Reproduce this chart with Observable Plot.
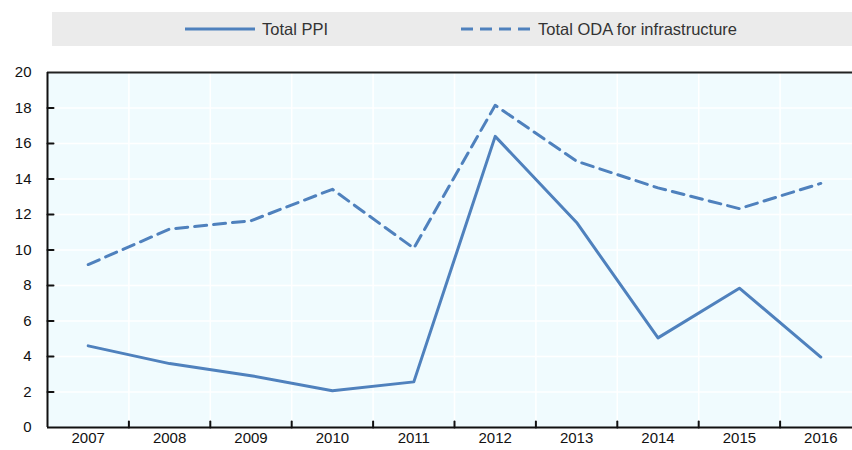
<!DOCTYPE html>
<html>
<head>
<meta charset="utf-8">
<script src="https://cdn.jsdelivr.net/npm/d3@7"></script>
<script src="https://cdn.jsdelivr.net/npm/@observablehq/plot@0.6"></script>
<style>
  body { margin: 0; background: #fff; font-family: "Liberation Sans", Arial, sans-serif; }
  #wrap { position: relative; width: 852px; height: 450px; overflow: hidden; }
  #legend { position: absolute; left: 52px; top: 12px; width: 800px; height: 34px; background: #ebebeb; }
  .item { position: absolute; top: 0; height: 34px; display: flex; align-items: center; font-size: 16.5px; color: #333; white-space: nowrap; }
  .item svg { margin-right: 7px; }
  #chart { position: absolute; left: 0; top: 56px; }
</style>
</head>
<body>
<div id="wrap">
  <div id="legend"></div>
  <div id="chart"></div>
</div>
<script>
const years = [2007, 2008, 2009, 2010, 2011, 2012, 2013, 2014, 2015, 2016];
const totalPPI = [4.6, 3.6, 2.92, 2.07, 2.57, 16.4, 11.55, 5.05, 7.85, 3.97];
const totalODA = [9.18, 11.18, 11.65, 13.42, 10.1, 18.15, 15.0, 13.5, 12.33, 13.75];
const seriesNames = ["Total PPI", "Total ODA for infrastructure"];
const yTicks = [0, 2, 4, 6, 8, 10, 12, 14, 16, 18, 20];

const lineColor = "#4f81bd";
const dash = "12,7";

const data = years.flatMap((yr, i) => [
  {year: yr, value: totalPPI[i], series: seriesNames[0]},
  {year: yr, value: totalODA[i], series: seriesNames[1]}
]);
const boundaries = years.slice(0, -1).map(y => y + 0.5);
const innerTicks = yTicks.slice(1, -1);
const tickShape = {draw(ctx, l) { ctx.moveTo(0, 0); ctx.lineTo(0, -l); }};

// Legend
const legend = document.getElementById("legend");
const legendLeft = [133, 409];
seriesNames.forEach((name, i) => {
  const item = document.createElement("div");
  item.className = "item";
  item.style.left = legendLeft[i] + "px";
  item.innerHTML = `<svg width="70" height="6"><line x1="0" x2="70" y1="3" y2="3" stroke="${lineColor}" stroke-width="3" ${i === 1 ? `stroke-dasharray="${dash}"` : ""}/></svg><span>${name}</span>`;
  legend.appendChild(item);
});

const chart = Plot.plot({
  width: 852,
  height: 394,
  marginLeft: 47,
  marginRight: 0,
  marginTop: 16,
  marginBottom: 23,
  style: {fontFamily: '"Liberation Sans", Arial, sans-serif', fontSize: "15px", color: "#111", background: "transparent"},
  x: {type: "linear", domain: [years[0] - 0.5, years[years.length - 1] + 0.5], range: [47, 861], label: null},
  y: {domain: [0, 20], label: null},
  marks: [
    Plot.frame({fill: "#f0fbfe", stroke: null}),
    Plot.ruleY(innerTicks, {stroke: "white", strokeWidth: 1.5}),
    Plot.ruleX(boundaries, {stroke: "white", strokeWidth: 1.5}),
    Plot.line(data.filter(d => d.series === seriesNames[1]), {x: "year", y: "value", stroke: lineColor, strokeWidth: 3, strokeDasharray: dash}),
    Plot.line(data.filter(d => d.series === seriesNames[0]), {x: "year", y: "value", stroke: lineColor, strokeWidth: 3}),
    Plot.ruleY([0], {stroke: "#111", strokeWidth: 2}),
    Plot.ruleY([20], {stroke: "#222", strokeWidth: 2}),
    Plot.ruleX([years[0] - 0.5], {stroke: "#111", strokeWidth: 2}),
    Plot.vector(boundaries, {x: d => d, frameAnchor: "bottom", length: 6, rotate: 0, anchor: "start", shape: tickShape, stroke: "#111", strokeWidth: 2}),
    Plot.vector(innerTicks, {y: d => d, frameAnchor: "left", length: 6, rotate: 90, anchor: "start", shape: tickShape, stroke: "#111", strokeWidth: 2}),
    Plot.axisX(years, {tickSize: 0, tickPadding: 5, tickFormat: d => String(d), label: null}),
    Plot.axisY(yTicks, {tickSize: 0, tickPadding: 16, tickFormat: d => String(d), label: null})
  ]
});
document.getElementById("chart").appendChild(chart);
</script>
</body>
</html>
